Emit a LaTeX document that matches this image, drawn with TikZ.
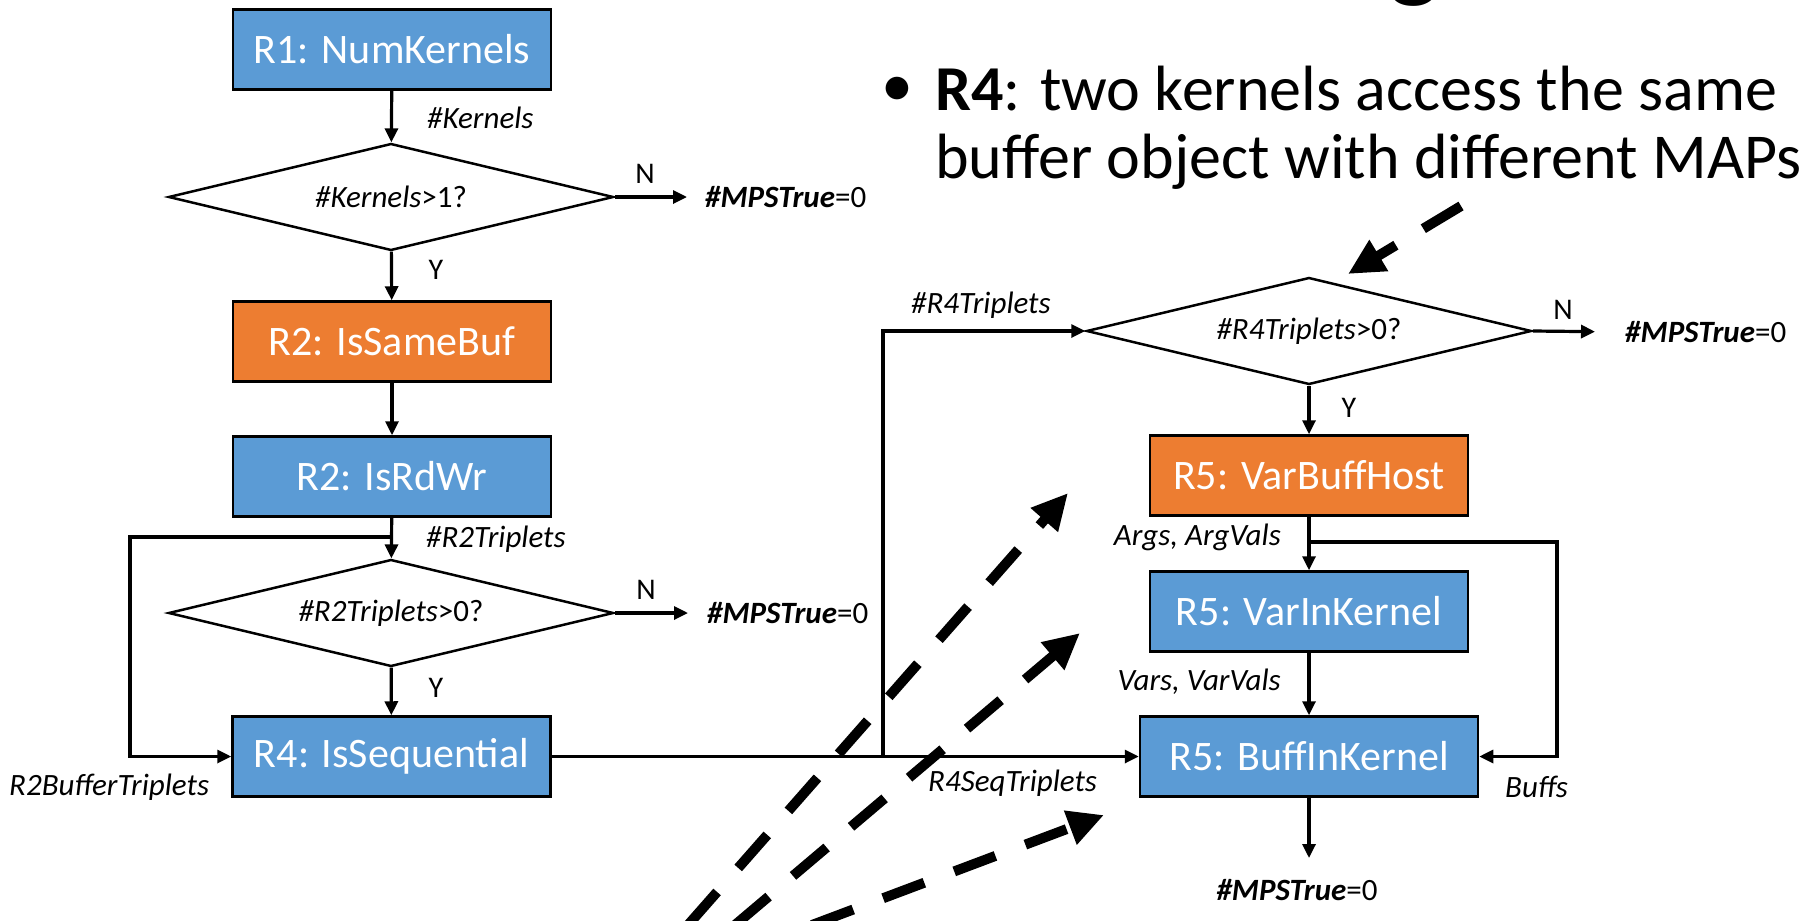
\documentclass[tikz,border=0pt]{standalone}
\usepackage{fontspec}
\setmainfont{Carlito}
\usetikzlibrary{shapes.geometric,arrows.meta}
\definecolor{boxblue}{HTML}{5B9BD5}
\definecolor{boxorange}{HTML}{ED7D31}
\begin{document}
\begin{tikzpicture}[x=1pt,y=-1pt,
  proc/.style={draw=black,line width=2.5pt,minimum width=318pt,minimum height=80pt,inner sep=0pt,text=white,font=\fontsize{42}{50}\selectfont},
  bluebox/.style={proc,fill=boxblue},
  orangebox/.style={proc,fill=boxorange},
  dec/.style={diamond,draw=black,line width=2.5pt,aspect=4.16,minimum width=445pt,minimum height=107pt,inner sep=0pt,font=\fontsize{31}{37}\selectfont},
  lab/.style={inner sep=0pt,font=\fontsize{31}{37}\selectfont\itshape},
  yn/.style={inner sep=0pt,font=\fontsize{30}{36}\selectfont},
  res/.style={inner sep=0pt,font=\fontsize{31}{37}\selectfont},
  conn/.style={line width=3.2pt,-{Triangle[length=14pt,width=13pt]}},
  hint/.style={line width=10pt,dash pattern=on 44pt off 32pt,-{Triangle[length=36pt,width=34pt]}},
  big/.style={inner sep=0pt,font=\fontsize{64}{70}\selectfont}
]
\useasboundingbox (0,0) rectangle (1810,921);
\clip (0,0) rectangle (1810,921);

% title fragment
\node[inner sep=0pt,anchor=base,font=\fontsize{110}{130}\selectfont] (title) at (1414,-13) {g};

% bullet text
\node[big] (bul) at (897,92) {•};
\node[big,anchor=base west] (t1) at (935,110) {\textbf{R4}: two kernels access the same};
\node[big,anchor=base west] (t2) at (935,178) {buffer object with different MAPs};

% left column
\node[bluebox] (R1) at (392,49.5) {R1: NumKernels};
\node[dec] (D1) at (391,197) {\textit{\#Kernels}>1?};
\node[orangebox] (R2a) at (392,341.5) {R2: IsSameBuf};
\node[bluebox] (R2b) at (392,476.5) {R2: IsRdWr};
\node[dec] (D2) at (391,613) {\textit{\#R2Triplets}>0?};
\node[bluebox] (R4) at (391.5,756.5) {R4: IsSequential};

% right column
\node[dec] (D3) at (1309,331) {\textit{\#R4Triplets}>0?};
\node[orangebox] (R5a) at (1309,475.5) {R5: VarBuffHost};
\node[bluebox] (R5b) at (1309,611.5) {R5: VarInKernel};
\node[bluebox,minimum width=338pt] (R5c) at (1309,756.5) {R5: BuffInKernel};

% results
\node[res,anchor=west] (m1) at (705,197) {\textbf{\textit{\#MPSTrue}}=0};
\node[res,anchor=west] (m2) at (707,613) {\textbf{\textit{\#MPSTrue}}=0};
\node[res,anchor=west] (m3) at (1625,332) {\textbf{\textit{\#MPSTrue}}=0};
\node[res] (m4) at (1297,890) {\textbf{\textit{\#MPSTrue}}=0};

% labels
\node[lab,anchor=west] (lk) at (427,118) {\#Kernels};
\node[yn] (n1) at (645,174) {N};
\node[yn] (y1) at (436,270) {Y};
\node[lab,anchor=west] (l2t) at (426,539) {\#R2Triplets};
\node[yn] (n2) at (646,590) {N};
\node[yn] (y2) at (436,688) {Y};
\node[lab,anchor=west] (l2b) at (9,787) {R2BufferTriplets};
\node[lab,anchor=west] (l4t) at (911,305) {\#R4Triplets};
\node[yn] (n3) at (1563,310) {N};
\node[yn] (y3) at (1349,408) {Y};
\node[lab,anchor=east] (lav) at (1281,537) {Args, ArgVals};
\node[lab,anchor=east] (lvv) at (1281,682) {Vars, VarVals};
\node[lab,anchor=west] (l4s) at (928,783) {R4SeqTriplets};
\node[lab,anchor=west] (lbf) at (1505,787) {Buffs};

% coordinates
\coordinate (lpa) at (391,537);
\coordinate (lpb) at (130,537);
\coordinate (J) at (883,756.5);
\coordinate (br) at (1309,542);
\coordinate (brr) at (1557,542);
\coordinate (e4) at (1309,858);

% connectors
\draw[conn] (R1) -- (D1);
\draw[conn,shorten >=18pt] (D1.east) -- (m1.west);
\draw[conn] (D1) -- (R2a);
\draw[conn] (R2a) -- (R2b);
\draw[conn] (R2b) -- (D2);
\draw[conn,shorten >=19pt] (D2.east) -- (m2.west);
\draw[conn] (D2) -- (R4);
\draw[conn] (lpa) -- (lpb) |- (R4.west);
\draw[conn] (R4.east) -- (R5c.west);
\draw[conn] (J) |- (D3.west);
\draw[conn,shorten >=30pt] (D3.east) -- (m3.west);
\draw[conn] (D3) -- (R5a);
\draw[conn] (R5a) -- (R5b);
\draw[conn] (R5b) -- (R5c);
\draw[conn] (br) -- (brr) |- (R5c.east);
\draw[conn] (R5c) -- (e4);

% dashed hint arrows
\coordinate (ha0) at (688,925);
\coordinate (ha1) at (1068,493);
\coordinate (hb0) at (735,925);
\coordinate (hb1) at (1080,633);
\coordinate (hc0) at (812,925);
\coordinate (hc1) at (1104,815);
\coordinate (hd0) at (1461,206);
\coordinate (hd1) at (1348,274);
\draw[hint] (ha0) -- (ha1);
\draw[hint] (hb0) -- (hb1);
\draw[hint] (hc0) -- (hc1);
\draw[hint] (hd0) -- (hd1);
\end{tikzpicture}
\end{document}
